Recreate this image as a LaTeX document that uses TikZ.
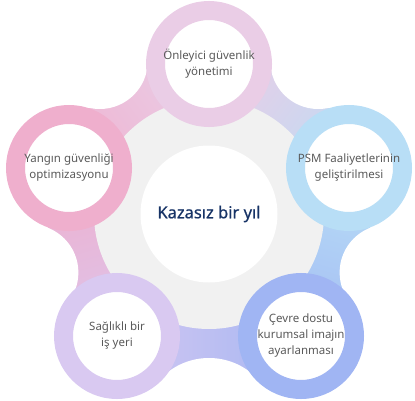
\documentclass[tikz,border=0pt]{standalone}
\usepackage{fontspec}
\setmainfont{Noto Sans}
\newfontfamily\hubfont[FakeBold=0.6]{Noto Sans}
\usetikzlibrary{calc}
\definecolor{ringtop}{HTML}{EACDE6}
\definecolor{ringleft}{HTML}{EFAFCD}
\definecolor{ringright}{HTML}{B8DEF6}
\definecolor{ringbr}{HTML}{A0B5F3}
\definecolor{ringbl}{HTML}{D9C9F1}
\definecolor{hubgray}{HTML}{F1F1F1}
\definecolor{navy}{HTML}{173366}
\definecolor{labelgray}{HTML}{5A5A5A}
\tikzset{
    ring/.style={
        circle,
        draw=#1,
        line width=19pt,
        fill=white,
        minimum size=107pt,
        inner sep=0pt,
        align=center,
        text=labelgray,
        font=\fontsize{11.5}{16}\selectfont
    },
    hub/.style={
        circle,
        fill=white,
        minimum size=137pt,
        inner sep=0pt,
        text=navy,
        font=\hubfont\fontsize{16.5}{20}\selectfont
    }
}

\begin{document}
\begin{tikzpicture}[x=1pt,y=1pt]
\useasboundingbox (0,0) rectangle (415,400);

\coordinate (O) at (209,186);
\coordinate (ctop) at (209,336);
\coordinate (cleft) at (69,232);
\coordinate (cright) at (349,232);
\coordinate (cbl) at (117,64);
\coordinate (cbr) at (301,64);

% bands between the rings
\foreach \a/\b/\ca/\cb/\ang in {cleft/ctop/ringleft/ringtop/126.6, ctop/cright/ringtop/ringright/53.4, cright/cbr/ringright/ringbr/-15.9, cbr/cbl/ringbr/ringbl/-90, cbl/cleft/ringbl/ringleft/-164.1}{
  \begin{scope}
    \clip (O) circle (165);
    \clip (O) -- ($(O)!1.6!(\a)$) -- ($(O)!1.6!(\b)$) -- cycle;
    \shade[top color=\ca, bottom color=\cb, shading angle=\ang] (O) -- ($(O)!1.3!(\a)$) -- ($(O)!1.3!(\b)$) -- cycle;
  \end{scope}
}

% notches and grey field
\fill[white] (99.8,339) circle (48) (318.2,339) circle (48)
  (30.4,127.5) circle (48) (387.6,127.5) circle (48) (209,-25) circle (67);
\fill[hubgray] (O) circle (115);

\node (prevent) [ring=ringtop] at (ctop) {Önleyici güvenlik\\yönetimi};
\node (fire) [ring=ringleft] at (cleft) {Yangın güvenliği\\optimizasyonu};
\node (psm) [ring=ringright] at (cright) {PSM Faaliyetlerinin\\geliştirilmesi};
\node (health) [ring=ringbl] at (cbl) {Sağlıklı bir\\iş yeri};
\node (green) [ring=ringbr] at (cbr) {Çevre dostu\\kurumsal imajın\\ayarlanması};
\node (goal) [hub] at (O) {Kazasız bir yıl};

\end{tikzpicture}
\end{document}
